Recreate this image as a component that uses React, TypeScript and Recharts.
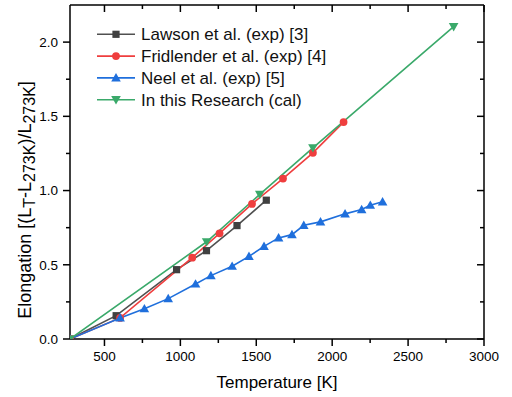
import React from "react";
import { LineChart, Line, XAxis, YAxis } from "recharts";

// temperature [K] and elongation
const lawsonT = [273, 577, 975, 1172, 1373, 1566];
const lawsonE = [0, 0.157, 0.467, 0.595, 0.764, 0.935];

const fridT = [273, 603, 1078, 1258, 1472, 1676, 1873, 2075];
const fridE = [0, 0.142, 0.548, 0.712, 0.91, 1.081, 1.254, 1.461];

const neelT = [273, 603, 763, 920, 1100, 1201, 1341, 1452, 1551, 1647, 1735, 1813, 1923, 2085, 2194, 2251, 2332];
const neelE = [0, 0.142, 0.204, 0.272, 0.371, 0.427, 0.49, 0.557, 0.624, 0.681, 0.703, 0.766, 0.789, 0.843, 0.872, 0.901, 0.924];

const calcT = [273, 1173, 1523, 1873, 2800];
const calcE = [0, 0.655, 0.974, 1.288, 2.104];

const xTicks = [500, 750, 1000, 1250, 1500, 1750, 2000, 2250, 2500, 2750, 3000];
const yTicks = [0, 0.25, 0.5, 0.75, 1, 1.25, 1.5, 1.75, 2];

const seriesNames = [
  "Lawson et al. (exp) [3]",
  "Fridlender et al. (exp) [4]",
  "Neel et al. (exp) [5]",
  "In this Research (cal)",
];

const FONT = "'Liberation Sans', Arial, sans-serif";
const GREY = "#505050";
const RED = "#ef3e3e";
const BLUE = "#1f6fdc";
const GREEN = "#3aa96a";

const zip = (t: number[], e: number[]) => t.map((v, i) => ({ t: v, e: e[i] }));

const isMajorX = (v: number) => Math.abs(v % 500) < 1e-6;
const isMajorY = (v: number) => Math.abs((v * 2) % 1) < 1e-6;

function Marker({ kind, cx, cy, color }: { kind: string; cx: number; cy: number; color: string }) {
  if (kind === "square") return <rect x={cx - 3.6} y={cy - 3.6} width={7.2} height={7.2} fill={color} />;
  if (kind === "circle") return <circle cx={cx} cy={cy} r={3.9} fill={color} />;
  if (kind === "up")
    return <polygon points={`${cx},${cy - 4.8} ${cx + 4.8},${cy + 3.6} ${cx - 4.8},${cy + 3.6}`} fill={color} />;
  return <polygon points={`${cx},${cy + 4.8} ${cx + 4.8},${cy - 3.6} ${cx - 4.8},${cy - 3.6}`} fill={color} />;
}

const dotOf = (kind: string, color: string) => (p: any) =>
  p.cx == null ? <g key={p.key} /> : <Marker key={p.key} kind={kind} cx={p.cx} cy={p.cy} color={color} />;

const shapes = ["square", "circle", "up", "down"];
const colors = [GREY, RED, BLUE, GREEN];
const markerColors = ["#404040", RED, BLUE, GREEN];

function BottomTick({ x, y, payload }: any) {
  const major = isMajorX(payload.value);
  return (
    <g>
      <line x1={x} x2={x} y1={y} y2={y + (major ? 7 : 4)} stroke="#000" strokeWidth={1.5} />
      {major && (
        <text x={x} y={y + 22} textAnchor="middle" fontSize={13.5} fontFamily={FONT} fill="#000">
          {payload.value}
        </text>
      )}
    </g>
  );
}

function LeftTick({ x, y, payload }: any) {
  const major = isMajorY(payload.value);
  return (
    <g>
      <line x1={x} x2={x - (major ? 7 : 4)} y1={y} y2={y} stroke="#000" strokeWidth={1.5} />
      {major && (
        <text x={x - 12} y={y + 4.8} textAnchor="end" fontSize={13.5} fontFamily={FONT} fill="#000">
          {payload.value.toFixed(1)}
        </text>
      )}
    </g>
  );
}

function TopTick({ x, y, payload }: any) {
  const major = isMajorX(payload.value);
  return <line x1={x} x2={x} y1={y} y2={y + (major ? 7 : 4)} stroke="#000" strokeWidth={1.5} />;
}

function RightTick({ x, y, payload }: any) {
  const major = isMajorY(payload.value);
  return <line x1={x} x2={x - (major ? 7 : 4)} y1={y} y2={y} stroke="#000" strokeWidth={1.5} />;
}

function YTitle() {
  return (
    <text
      transform="translate(31, 200) rotate(-90)"
      textAnchor="middle"
      fontSize={18}
      fontFamily={FONT}
      fill="#000"
    >
      Elongation [(L
      <tspan fontSize={16} dy={4}>T</tspan>
      <tspan dy={-4}>-L</tspan>
      <tspan fontSize={16} dy={4}>273K</tspan>
      <tspan dy={-4}>)/L</tspan>
      <tspan fontSize={16} dy={4}>273K</tspan>
      <tspan dy={-4}>]</tspan>
    </text>
  );
}

function XTitle() {
  return (
    <text x={277} y={388} textAnchor="middle" fontSize={17} fontFamily={FONT} fill="#000">
      Temperature [K]
    </text>
  );
}

function LegendBox() {
  return (
    <svg width={260} height={100} style={{ position: "absolute", left: 90, top: 20 }}>
      {seriesNames.map((name, i) => {
        const cy = 14.3 + i * 21.8;
        return (
          <g key={name}>
            <line x1={7} x2={45} y1={cy} y2={cy} stroke={colors[i]} strokeWidth={1.6} />
            <Marker kind={shapes[i]} cx={26} cy={cy} color={markerColors[i]} />
            <text x={51} y={cy + 6} fontSize={17} fontFamily={FONT} fill="#111">
              {name}
            </text>
          </g>
        );
      })}
    </svg>
  );
}

export default function App() {
  const sets = [zip(lawsonT, lawsonE), zip(fridT, fridE), zip(neelT, neelE), zip(calcT, calcE)];
  return (
    <div style={{ width: 512, height: 397, position: "relative" }}>
      <style>{"body{margin:0}"}</style>
      <LineChart width={512} height={397} margin={{ top: 4, right: 27, bottom: 0, left: 0 }}>
        <XAxis
          xAxisId="b"
          dataKey="t"
          type="number"
          domain={[273, 3000]}
          ticks={xTicks}
          allowDataOverflow
          height={58}
          tickSize={0}
          tickMargin={0}
          tickLine={false}
          stroke="#000"
          strokeWidth={1.5}
          tick={<BottomTick />}
          interval={0}
          label={<XTitle />}
        />
        <XAxis
          xAxisId="top"
          dataKey="t"
          orientation="top"
          type="number"
          domain={[273, 3000]}
          ticks={xTicks}
          allowDataOverflow
          height={1}
          tickSize={0}
          tickMargin={0}
          tickLine={false}
          stroke="#000"
          strokeWidth={1.5}
          tick={<TopTick />}
          interval={0}
        />
        <YAxis
          yAxisId="l"
          type="number"
          domain={[0, 2.25]}
          ticks={yTicks}
          allowDataOverflow
          width={70}
          tickSize={0}
          tickMargin={0}
          tickLine={false}
          stroke="#000"
          strokeWidth={1.5}
          tick={<LeftTick />}
          interval={0}
          label={<YTitle />}
        />
        <YAxis
          yAxisId="r"
          orientation="right"
          type="number"
          domain={[0, 2.25]}
          ticks={yTicks}
          allowDataOverflow
          width={1}
          tickSize={0}
          tickMargin={0}
          tickLine={false}
          stroke="#000"
          strokeWidth={1.5}
          tick={<RightTick />}
          interval={0}
        />
        {/* invisible series that keeps the mirrored top/right axes alive */}
        <Line
          xAxisId="top"
          yAxisId="r"
          data={zip(calcT, calcE)}
          dataKey="e"
          stroke="none"
          dot={false}
          activeDot={false}
          legendType="none"
          isAnimationActive={false}
        />
        {sets.map((d, i) => (
          <Line
            key={seriesNames[i]}
            xAxisId="b"
            yAxisId="l"
            data={d}
            dataKey="e"
            name={seriesNames[i]}
            type="linear"
            stroke={colors[i]}
            strokeWidth={1.6}
            dot={dotOf(shapes[i], markerColors[i])}
            activeDot={false}
            isAnimationActive={false}
          />
        ))}
      </LineChart>
      <LegendBox />
    </div>
  );
}
